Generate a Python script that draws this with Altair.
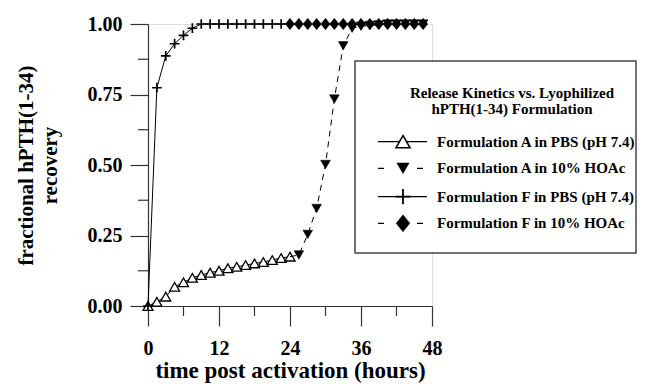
import altair as alt
import pandas as pd

# ---- data ----
t_a_pbs = [0, 1.5, 3, 4.5, 6, 7.5, 9, 10.5, 12, 13.5, 15, 16.5, 18, 19.5, 21, 22.5, 24]
v_a_pbs = [0.0, 0.015, 0.033, 0.068, 0.084, 0.100, 0.110, 0.118, 0.125, 0.134, 0.139, 0.145,
           0.151, 0.156, 0.163, 0.170, 0.175]

t_a_hoac = [25.5, 27, 28.5, 30, 31.5, 33, 34.5, 36, 37.5, 39, 40.5, 42, 43.5, 45, 46.5]
v_a_hoac = [0.181, 0.254, 0.346, 0.502, 0.734, 0.923, 0.985, 0.992, 0.995, 0.997, 1.0, 1.0,
            1.0, 1.0, 1.0]

t_f_pbs = [0, 1.5, 3, 4.5, 6, 7.5, 9, 10.5, 12, 13.5, 15, 16.5, 18, 19.5, 21, 22.5]
v_f_pbs = [0.0, 0.774, 0.887, 0.930, 0.960, 0.985, 1.0, 1.0, 1.0, 1.0, 1.0, 1.0, 1.0, 1.0, 1.0, 1.0]

t_f_hoac = [24, 25.5, 27, 28.5, 30, 31.5, 33, 34.5, 36, 37.5, 39, 40.5, 42, 43.5, 45, 46.5]
v_f_hoac = [1.0, 1.0, 1.0, 1.0, 1.0, 1.0, 1.0, 1.0, 1.0, 1.0, 1.0, 1.0, 1.0, 1.0, 1.0, 1.0]

x_ticks = [0, 12, 24, 36, 48]
x_minor = [6, 18, 30, 42]
y_ticks = [0.0, 0.25, 0.5, 0.75, 1.0]
y_minor = [0.125, 0.375, 0.625, 0.875]

legend_title = ["Release Kinetics vs. Lyophilized", "hPTH(1-34) Formulation"]
legend_labels = ["Formulation A in PBS (pH 7.4)", "Formulation A in 10% HOAc",
                 "Formulation F in PBS (pH 7.4)", "Formulation F in 10% HOAc"]

x_title = "time post activation (hours)"
y_title = ["fractional hPTH(1-34)", "recovery"]

# ---- styles ----
FONT = "Liberation Serif"
AX = "#333333"
W, H = 284, 282

xs = alt.Scale(domain=[0, 48], nice=False, zero=False)
ys = alt.Scale(domain=[0, 1], nice=False, zero=False)

xaxis = alt.Axis(values=x_ticks, tickSize=20, tickColor=AX, domainColor=AX, tickWidth=1.2,
                 domainWidth=1.2, labelFont=FONT, labelFontSize=20, labelFontWeight="bold",
                 labelColor="black", labelPadding=12, labelFlush=False, grid=False,
                 title=x_title, titleFont=FONT, titleFontSize=23, titleFontWeight="bold",
                 titleColor="black", titlePadding=1, format="d")
yaxis = alt.Axis(values=y_ticks, tickSize=18, tickColor=AX, domainColor=AX, tickWidth=1.2,
                 domainWidth=1.2, labelFont=FONT, labelFontSize=20, labelFontWeight="bold",
                 labelColor="black", labelPadding=8, labelFlush=False, grid=False,
                 title=y_title, titleFont=FONT, titleFontSize=21, titleFontWeight="bold",
                 titleColor="black", titlePadding=27, titleLineHeight=24, format=".2f")


def enc_xy(ch):
    return ch.encode(x=alt.X("t:Q", scale=xs, axis=xaxis),
                     y=alt.Y("v:Q", scale=ys, axis=yaxis))


def df(t, v):
    return pd.DataFrame({"t": t, "v": v})


PLUS = "M-1,0H1M0,-1V1"
DIAM = "M0,-1L0.8,0L0,1L-0.8,0Z"

layers = []

# minor ticks
layers.append(alt.Chart(pd.DataFrame({"v": y_minor})).mark_rule(color=AX, strokeWidth=1.2).encode(
    y=alt.Y("v:Q", scale=ys, axis=yaxis), x=alt.value(-10), x2=alt.value(0)))
layers.append(alt.Chart(pd.DataFrame({"t": x_minor})).mark_rule(color=AX, strokeWidth=1.2).encode(
    x=alt.X("t:Q", scale=xs, axis=xaxis), y=alt.value(H), y2=alt.value(H + 10)))

# Formulation A in PBS
d = df(t_a_pbs, v_a_pbs)
layers.append(enc_xy(alt.Chart(d).mark_line(color="black", strokeWidth=1)))
layers.append(enc_xy(alt.Chart(d).mark_point(shape="triangle-up", size=100, filled=True,
                                             fill="white", stroke="black", strokeWidth=1.3,
                                             opacity=1)))
# Formulation F in PBS
d = df(t_f_pbs, v_f_pbs)
layers.append(enc_xy(alt.Chart(d).mark_line(color="black", strokeWidth=1)))
layers.append(enc_xy(alt.Chart(d).mark_point(shape=PLUS, size=95, filled=False,
                                             stroke="black", strokeWidth=1.7, opacity=1)))
# Formulation F in HOAc (dashed line continues from last PBS point)
d = df(t_f_hoac, v_f_hoac)
dl = df([t_f_pbs[-1]] + t_f_hoac, [v_f_pbs[-1]] + v_f_hoac)
layers.append(enc_xy(alt.Chart(dl).mark_line(color="black", strokeWidth=1, strokeDash=[6, 5])))
layers.append(enc_xy(alt.Chart(d).mark_point(shape=DIAM, size=130, filled=True,
                                             fill="black", stroke="black", strokeWidth=0.5,
                                             opacity=1)))
# Formulation A in HOAc
d = df(t_a_hoac, v_a_hoac)
dl = df([t_a_pbs[-1]] + t_a_hoac, [v_a_pbs[-1]] + v_a_hoac)
layers.append(enc_xy(alt.Chart(dl).mark_line(color="black", strokeWidth=1, strokeDash=[6, 5])))
layers.append(enc_xy(alt.Chart(d).mark_point(shape="triangle-down", size=95, filled=True,
                                             fill="black", stroke="black", strokeWidth=0.5,
                                             opacity=1)))

# ---- legend box (drawn manually) ----
one = pd.DataFrame({"k": [0]})
BX0, BX1, BY0, BY1 = 207, 488, 37, 229
layers.append(alt.Chart(one).mark_rect(fill="white", stroke="#444444", strokeWidth=1.5).encode(
    x=alt.value(BX0), x2=alt.value(BX1), y=alt.value(BY0), y2=alt.value(BY1)))
for i, line in enumerate(legend_title):
    layers.append(alt.Chart(pd.DataFrame({"s": [line]})).mark_text(
        font=FONT, fontSize=15, fontWeight="bold", align="center", baseline="middle",
        color="black").encode(x=alt.value(364), y=alt.value(69 + 16 * i), text="s:N"))

SX, LX0, LX1, TX = 255, 230, 279, 289
row_y = [117.7, 144.3, 172.7, 199.3]
marks = [
    dict(shape="triangle-up", size=200, filled=True, fill="white", stroke="black", strokeWidth=1.5),
    dict(shape="triangle-down", size=150, filled=True, fill="black", stroke="black", strokeWidth=0.5),
    dict(shape=PLUS, size=230, filled=False, stroke="black", strokeWidth=1.8),
    dict(shape=DIAM, size=290, filled=True, fill="black", stroke="black", strokeWidth=0.5),
]
dashed = [False, True, False, True]
for i, lab in enumerate(legend_labels):
    yy = row_y[i]
    if dashed[i]:
        layers.append(alt.Chart(one).mark_rule(color="black", strokeWidth=1.2,
                                               strokeDash=[6, 33]).encode(
            x=alt.value(LX0), x2=alt.value(LX1 - 4), y=alt.value(yy)))
    else:
        layers.append(alt.Chart(one).mark_rule(color="black", strokeWidth=1.2).encode(
            x=alt.value(LX0), x2=alt.value(LX1), y=alt.value(yy)))
    layers.append(alt.Chart(one).mark_point(opacity=1, **marks[i]).encode(
        x=alt.value(SX), y=alt.value(yy)))
    layers.append(alt.Chart(pd.DataFrame({"s": [lab]})).mark_text(
        font=FONT, fontSize=15, fontWeight="bold", align="left", baseline="middle",
        color="black").encode(x=alt.value(TX), y=alt.value(yy), text="s:N"))

chart = alt.layer(*layers).properties(
    width=W, height=H,
    autosize=alt.AutoSizeParams(type="none"),
    padding={"left": 140, "top": 16, "right": 205, "bottom": 78},
).configure_view(stroke=None).configure(background="white")

chart.save("out.html", embed_options={"renderer": "svg", "actions": False})
